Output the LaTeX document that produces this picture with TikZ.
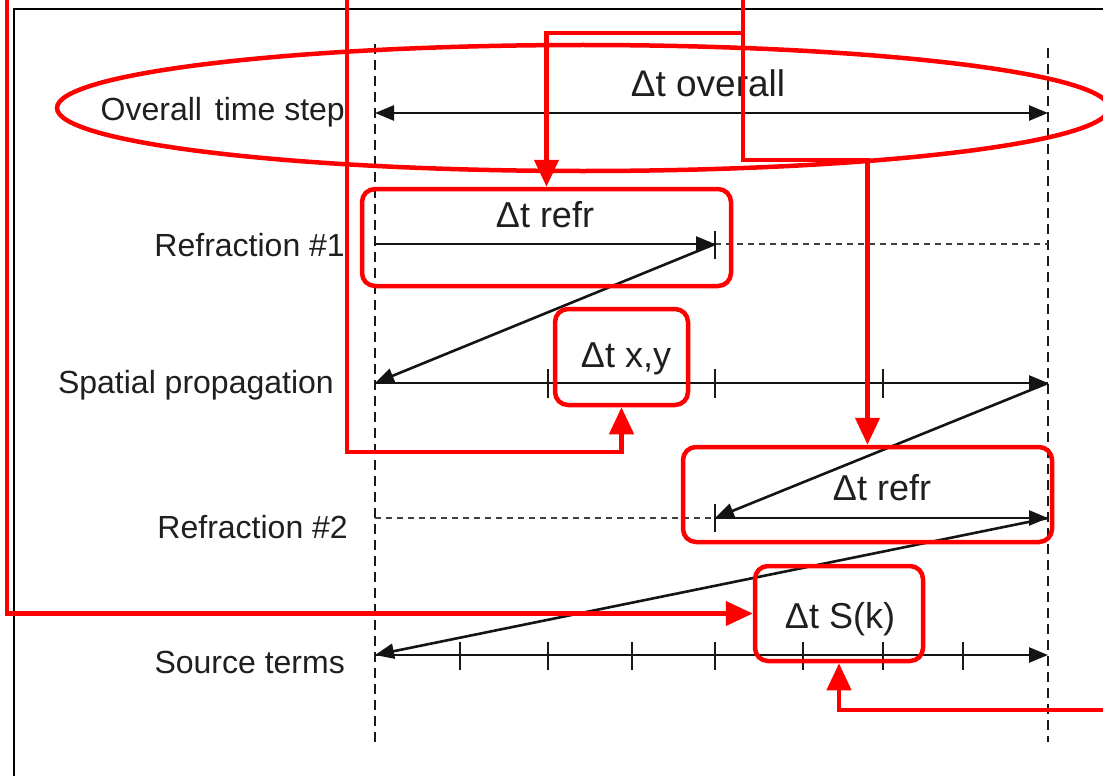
\documentclass[tikz,border=0pt]{standalone}
\usepackage{fontspec}
\setmainfont{Liberation Sans}
\usetikzlibrary{arrows.meta,shapes.geometric}
\tikzset{
  rowlabel/.style={font=\fontsize{32}{38}\selectfont, anchor=base east, inner sep=0pt, text=black!88},
  dtlabel/.style={font=\fontsize{36}{42}\selectfont, anchor=base, inner sep=0pt, text=black!88},
  guide/.style={line width=2.6pt, dash pattern=on 10pt off 6pt, black!90},
  thindash/.style={line width=1.6pt, dash pattern=on 6pt off 5pt, black!75},
  axis/.style={line width=2.6pt, black!92, -{Triangle[length=19pt,width=15pt]}},
  twoway/.style={line width=2.6pt, black!92, {Triangle[length=19pt,width=15pt]}-{Triangle[length=19pt,width=15pt]}},
  tickmark/.style={line width=2.2pt, black!90},
  hlbox/.style={draw=red, line width=4.5pt, rounded corners=13pt, inner sep=0pt},
  redline/.style={draw=red, line width=4.5pt},
  redarrow/.style={draw=red, line width=4.5pt, -{Triangle[length=27pt,width=24pt]}}
}
\begin{document}
\begin{tikzpicture}[x=1pt,y=-1pt]
\useasboundingbox (0,0) rectangle (1103,776);
% frame
\draw[line width=2pt, black] (14,790) -- (14,9) -- (1120,9);
% vertical guides
\draw[guide] (375,44) -- (375,742);
\draw[guide] (1048,48) -- (1048,742);
% row coordinates
\coordinate (L0) at (375,113); \coordinate (R0) at (1048,113);
\coordinate (L1) at (375,244); \coordinate (M1) at (715,244); \coordinate (R1) at (1048,244);
\coordinate (L2) at (375,383); \coordinate (R2) at (1048,383);
\coordinate (L3) at (375,518); \coordinate (M3) at (715,518); \coordinate (R3) at (1048,518);
\coordinate (L4) at (375,655); \coordinate (R4) at (1048,655);
% row labels
\node[rowlabel] (lab0) at (345,121) {Overall\hspace{4pt} time step};
\node[rowlabel] (lab1) at (345,256) {Refraction \#1};
\node[rowlabel] (lab2) at (334,393) {Spatial propagation};
\node[rowlabel] (lab3) at (348,538) {Refraction \#2};
\node[rowlabel] (lab4) at (345,673) {Source terms};
% overall
\draw[twoway] (L0) -- (R0);
\node[dtlabel, font=\fontsize{37}{44}\selectfont] (dt0) at (708,96) {Δt overall};
% refraction 1
\draw[thindash] (M1) -- (R1);
\draw[axis] (L1) -- (M1);
\draw[tickmark] (715,231) -- (715,259);
\node[dtlabel] (dt1) at (545,227) {Δt refr};
\draw[axis] (M1) -- (L2);
% spatial
\draw[axis] (L2) -- (R2);
\foreach \x in {548,715,883} \draw[tickmark] (\x,369) -- (\x,398);
\node[dtlabel] (dt2) at (626,367) {Δt x,y};
\draw[axis] (R2) -- (M3);
% refraction 2
\draw[thindash] (L3) -- (M3);
\draw[axis] (M3) -- (R3);
\draw[tickmark] (715,504) -- (715,532);
\node[dtlabel] (dt3) at (882,500) {Δt refr};
\draw[axis] (R3) -- (L4);
% source terms
\draw[axis] (L4) -- (R4);
\foreach \x in {460,548,632,715,803,883,963} \draw[tickmark] (\x,642) -- (\x,670);
\node[dtlabel] (dt4) at (840,628) {Δt S(k)};
% red annotations
\node[draw=red, line width=4.5pt, ellipse, inner sep=0pt, minimum width=1052pt, minimum height=126pt] (ell) at (583,108) {};
\node[hlbox, minimum width=369pt, minimum height=97pt] (box1) at (546.5,237.5) {};
\node[hlbox, minimum width=133pt, minimum height=96pt] (box2) at (621.5,357) {};
\node[hlbox, minimum width=369pt, minimum height=95pt] (box3) at (867.5,494.5) {};
\node[hlbox, minimum width=168pt, minimum height=95pt] (box4) at (839,613.5) {};
\coordinate (topA) at (347,-6);
\coordinate (cA) at (347,452);
\coordinate (topB) at (743,-6);
\coordinate (jB) at (743,33);
\coordinate (cC) at (743,160);
\coordinate (topD) at (7,-6);
\coordinate (rightE) at (1110,710);
\draw[redarrow] (topA) -- (cA) -| (box2.south);
\draw[redline] (topB) -- (jB);
\draw[redarrow] (jB) -| (box1.north);
\draw[redarrow] (jB) -- (cC) -| (box3.north);
\draw[redarrow] (topD) |- (box4.west);
\draw[redarrow] (rightE) -| (box4.south);
\end{tikzpicture}
\end{document}
